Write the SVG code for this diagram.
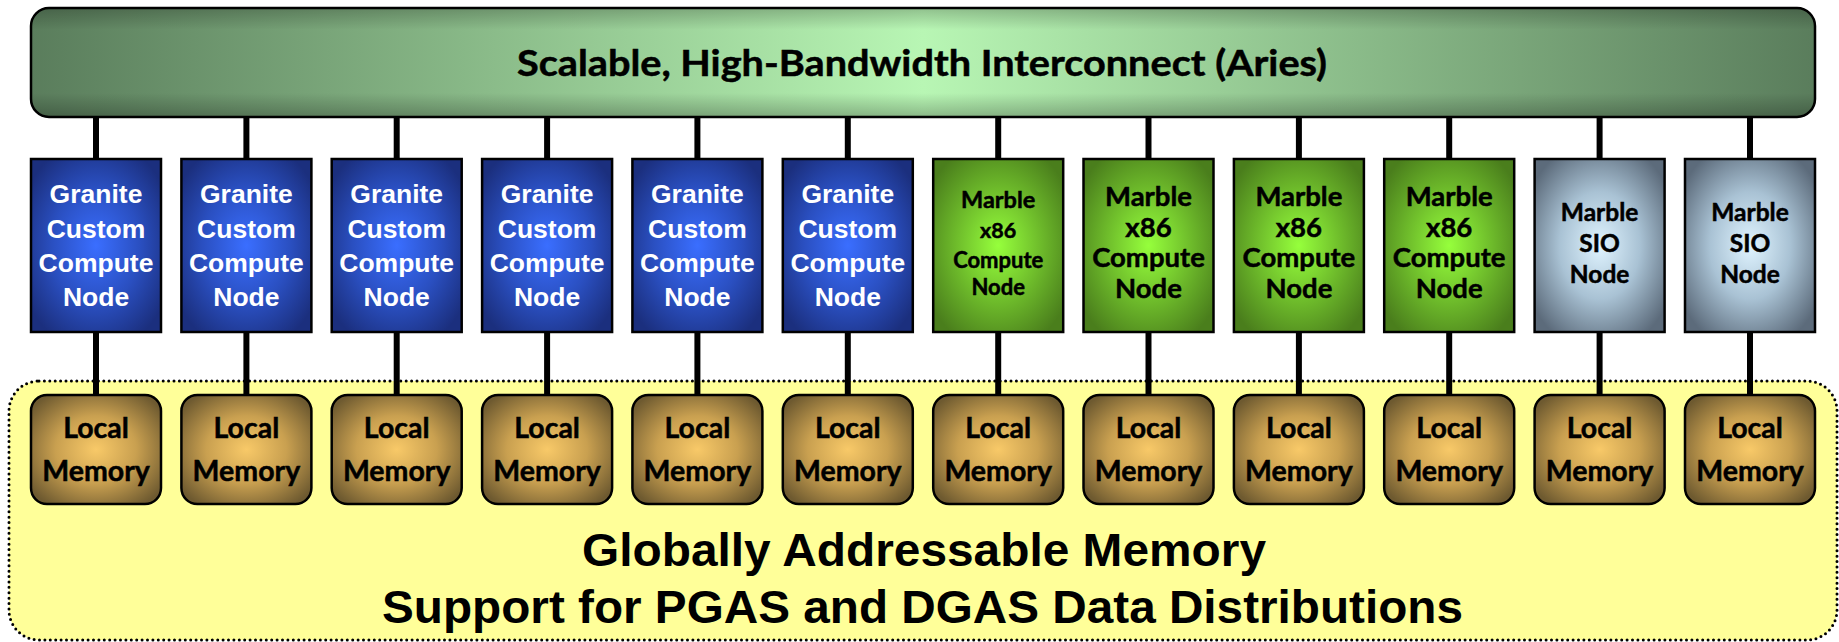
<svg xmlns="http://www.w3.org/2000/svg" width="1839" height="642" viewBox="0 0 1839 642">
<defs>
<linearGradient id="barH" x1="0" y1="0" x2="1" y2="0">
<stop offset="0" stop-color="#5a7d5c"/>
<stop offset="0.5" stop-color="#b8f6b4"/>
<stop offset="1" stop-color="#5a7d5c"/>
</linearGradient>
<linearGradient id="barV" x1="0" y1="0" x2="0" y2="1">
<stop offset="0" stop-color="#000" stop-opacity="0.22"/>
<stop offset="0.2" stop-color="#000" stop-opacity="0"/>
<stop offset="0.78" stop-color="#000" stop-opacity="0"/>
<stop offset="1" stop-color="#000" stop-opacity="0.25"/>
</linearGradient>
<radialGradient id="gBlue" cx="0.5" cy="0.5" r="0.62">
<stop offset="0" stop-color="#3a6eff"/>
<stop offset="0.55" stop-color="#2a4fc0"/>
<stop offset="1" stop-color="#1b2f7e"/>
</radialGradient>
<radialGradient id="gGreen" cx="0.5" cy="0.5" r="0.62">
<stop offset="0" stop-color="#96ff3c"/>
<stop offset="0.55" stop-color="#6cb82a"/>
<stop offset="1" stop-color="#4a7e1c"/>
</radialGradient>
<radialGradient id="gSio" cx="0.5" cy="0.5" r="0.62">
<stop offset="0" stop-color="#e0f4ff"/>
<stop offset="0.5" stop-color="#a9c2d4"/>
<stop offset="1" stop-color="#5c6b7b"/>
</radialGradient>
<radialGradient id="gMem" cx="0.5" cy="0.5" r="0.62">
<stop offset="0" stop-color="#f8c968"/>
<stop offset="0.5" stop-color="#c9a050"/>
<stop offset="1" stop-color="#6e5a30"/>
</radialGradient>
<style>
.box{stroke:#000;stroke-width:2.5}
.blue{fill:url(#gBlue)}
.green{fill:url(#gGreen)}
.sio{fill:url(#gSio)}
.mem{fill:url(#gMem)}
.conn line{stroke:#000;stroke-width:6}
.ar{font-family:"Liberation Sans",Arial,sans-serif;font-weight:bold;text-anchor:middle}
.cal{font-family:Lato,"Open Sans",sans-serif;font-weight:bold;text-anchor:middle;fill:#000;stroke:#000;stroke-width:0.5}
.wt{fill:#fff;font-size:26.5px}
</style>
</defs>

<g id="global-memory">
<rect x="9" y="381" width="1828" height="259" rx="30" fill="#ffff99" stroke="#000" stroke-width="3" stroke-dasharray="0 5.4" stroke-linecap="round"/>
<text class="ar" x="924" y="566" font-size="47" textLength="684" lengthAdjust="spacingAndGlyphs">Globally Addressable Memory</text>
<text class="ar" x="922.5" y="623" font-size="47" textLength="1081" lengthAdjust="spacingAndGlyphs">Support for PGAS and DGAS Data Distributions</text>
</g>

<g id="interconnect">
<rect x="31" y="8" width="1784" height="109" rx="18" fill="url(#barH)"/>
<rect x="31" y="8" width="1784" height="109" rx="18" fill="url(#barV)" stroke="#000" stroke-width="2.5"/>
<text class="cal" x="922" y="75.5" font-size="35.5" stroke-width="0.7" textLength="810" lengthAdjust="spacingAndGlyphs">Scalable, High-Bandwidth Interconnect (Aries)</text>
</g>

<g id="connectors" class="conn">
<line x1="96" y1="117" x2="96" y2="159"/><line x1="96" y1="332" x2="96" y2="395"/>
<line x1="246.4" y1="117" x2="246.4" y2="159"/><line x1="246.4" y1="332" x2="246.4" y2="395"/>
<line x1="396.7" y1="117" x2="396.7" y2="159"/><line x1="396.7" y1="332" x2="396.7" y2="395"/>
<line x1="547.1" y1="117" x2="547.1" y2="159"/><line x1="547.1" y1="332" x2="547.1" y2="395"/>
<line x1="697.4" y1="117" x2="697.4" y2="159"/><line x1="697.4" y1="332" x2="697.4" y2="395"/>
<line x1="847.8" y1="117" x2="847.8" y2="159"/><line x1="847.8" y1="332" x2="847.8" y2="395"/>
<line x1="998.2" y1="117" x2="998.2" y2="159"/><line x1="998.2" y1="332" x2="998.2" y2="395"/>
<line x1="1148.5" y1="117" x2="1148.5" y2="159"/><line x1="1148.5" y1="332" x2="1148.5" y2="395"/>
<line x1="1298.9" y1="117" x2="1298.9" y2="159"/><line x1="1298.9" y1="332" x2="1298.9" y2="395"/>
<line x1="1449.2" y1="117" x2="1449.2" y2="159"/><line x1="1449.2" y1="332" x2="1449.2" y2="395"/>
<line x1="1599.6" y1="117" x2="1599.6" y2="159"/><line x1="1599.6" y1="332" x2="1599.6" y2="395"/>
<line x1="1750" y1="117" x2="1750" y2="159"/><line x1="1750" y1="332" x2="1750" y2="395"/>
</g>

<g id="node1"><rect class="box blue" x="31" y="159" width="130" height="173"/>
<text class="ar wt" x="96"><tspan x="96" y="203">Granite</tspan><tspan x="96" y="237.5">Custom</tspan><tspan x="96" y="272">Compute</tspan><tspan x="96" y="306">Node</tspan></text></g>
<g id="node2"><rect class="box blue" x="181.4" y="159" width="130" height="173"/>
<text class="ar wt" x="246.4"><tspan x="246.4" y="203">Granite</tspan><tspan x="246.4" y="237.5">Custom</tspan><tspan x="246.4" y="272">Compute</tspan><tspan x="246.4" y="306">Node</tspan></text></g>
<g id="node3"><rect class="box blue" x="331.7" y="159" width="130" height="173"/>
<text class="ar wt" x="396.7"><tspan x="396.7" y="203">Granite</tspan><tspan x="396.7" y="237.5">Custom</tspan><tspan x="396.7" y="272">Compute</tspan><tspan x="396.7" y="306">Node</tspan></text></g>
<g id="node4"><rect class="box blue" x="482.1" y="159" width="130" height="173"/>
<text class="ar wt" x="547.1"><tspan x="547.1" y="203">Granite</tspan><tspan x="547.1" y="237.5">Custom</tspan><tspan x="547.1" y="272">Compute</tspan><tspan x="547.1" y="306">Node</tspan></text></g>
<g id="node5"><rect class="box blue" x="632.4" y="159" width="130" height="173"/>
<text class="ar wt" x="697.4"><tspan x="697.4" y="203">Granite</tspan><tspan x="697.4" y="237.5">Custom</tspan><tspan x="697.4" y="272">Compute</tspan><tspan x="697.4" y="306">Node</tspan></text></g>
<g id="node6"><rect class="box blue" x="782.8" y="159" width="130" height="173"/>
<text class="ar wt" x="847.8"><tspan x="847.8" y="203">Granite</tspan><tspan x="847.8" y="237.5">Custom</tspan><tspan x="847.8" y="272">Compute</tspan><tspan x="847.8" y="306">Node</tspan></text></g>

<g id="node7"><rect class="box green" x="933.2" y="159" width="130" height="173"/>
<text class="cal" x="998.2"><tspan x="998.2" y="208" font-size="23.5">Marble</tspan><tspan x="998.2" y="238" font-size="21.5">x86</tspan><tspan x="998.2" y="268" font-size="22">Compute</tspan><tspan x="998.2" y="295" font-size="22">Node</tspan></text></g>
<g id="node8"><rect class="box green" x="1083.5" y="159" width="130" height="173"/>
<text class="cal" x="1148.5" font-size="27.5"><tspan x="1148.5" y="206">Marble</tspan><tspan x="1148.5" y="237">x86</tspan><tspan x="1148.5" y="267">Compute</tspan><tspan x="1148.5" y="298">Node</tspan></text></g>
<g id="node9"><rect class="box green" x="1233.9" y="159" width="130" height="173"/>
<text class="cal" x="1298.9" font-size="27.5"><tspan x="1298.9" y="206">Marble</tspan><tspan x="1298.9" y="237">x86</tspan><tspan x="1298.9" y="267">Compute</tspan><tspan x="1298.9" y="298">Node</tspan></text></g>
<g id="node10"><rect class="box green" x="1384.2" y="159" width="130" height="173"/>
<text class="cal" x="1449.2" font-size="27.5"><tspan x="1449.2" y="206">Marble</tspan><tspan x="1449.2" y="237">x86</tspan><tspan x="1449.2" y="267">Compute</tspan><tspan x="1449.2" y="298">Node</tspan></text></g>

<g id="node11"><rect class="box sio" x="1534.6" y="159" width="130" height="173"/>
<text class="cal" x="1599.6" font-size="24.5"><tspan x="1599.6" y="221">Marble</tspan><tspan x="1599.6" y="252">SIO</tspan><tspan x="1599.6" y="283">Node</tspan></text></g>
<g id="node12"><rect class="box sio" x="1685" y="159" width="130" height="173"/>
<text class="cal" x="1750" font-size="24.5"><tspan x="1750" y="221">Marble</tspan><tspan x="1750" y="252">SIO</tspan><tspan x="1750" y="283">Node</tspan></text></g>

<g id="mem1"><rect class="box mem" x="31" y="395" width="130" height="109" rx="16"/><text class="cal" font-size="28.5"><tspan x="96" y="438">Local</tspan><tspan x="96" y="481">Memory</tspan></text></g>
<g id="mem2"><rect class="box mem" x="181.4" y="395" width="130" height="109" rx="16"/><text class="cal" font-size="28.5"><tspan x="246.4" y="438">Local</tspan><tspan x="246.4" y="481">Memory</tspan></text></g>
<g id="mem3"><rect class="box mem" x="331.7" y="395" width="130" height="109" rx="16"/><text class="cal" font-size="28.5"><tspan x="396.7" y="438">Local</tspan><tspan x="396.7" y="481">Memory</tspan></text></g>
<g id="mem4"><rect class="box mem" x="482.1" y="395" width="130" height="109" rx="16"/><text class="cal" font-size="28.5"><tspan x="547.1" y="438">Local</tspan><tspan x="547.1" y="481">Memory</tspan></text></g>
<g id="mem5"><rect class="box mem" x="632.4" y="395" width="130" height="109" rx="16"/><text class="cal" font-size="28.5"><tspan x="697.4" y="438">Local</tspan><tspan x="697.4" y="481">Memory</tspan></text></g>
<g id="mem6"><rect class="box mem" x="782.8" y="395" width="130" height="109" rx="16"/><text class="cal" font-size="28.5"><tspan x="847.8" y="438">Local</tspan><tspan x="847.8" y="481">Memory</tspan></text></g>
<g id="mem7"><rect class="box mem" x="933.2" y="395" width="130" height="109" rx="16"/><text class="cal" font-size="28.5"><tspan x="998.2" y="438">Local</tspan><tspan x="998.2" y="481">Memory</tspan></text></g>
<g id="mem8"><rect class="box mem" x="1083.5" y="395" width="130" height="109" rx="16"/><text class="cal" font-size="28.5"><tspan x="1148.5" y="438">Local</tspan><tspan x="1148.5" y="481">Memory</tspan></text></g>
<g id="mem9"><rect class="box mem" x="1233.9" y="395" width="130" height="109" rx="16"/><text class="cal" font-size="28.5"><tspan x="1298.9" y="438">Local</tspan><tspan x="1298.9" y="481">Memory</tspan></text></g>
<g id="mem10"><rect class="box mem" x="1384.2" y="395" width="130" height="109" rx="16"/><text class="cal" font-size="28.5"><tspan x="1449.2" y="438">Local</tspan><tspan x="1449.2" y="481">Memory</tspan></text></g>
<g id="mem11"><rect class="box mem" x="1534.6" y="395" width="130" height="109" rx="16"/><text class="cal" font-size="28.5"><tspan x="1599.6" y="438">Local</tspan><tspan x="1599.6" y="481">Memory</tspan></text></g>
<g id="mem12"><rect class="box mem" x="1685" y="395" width="130" height="109" rx="16"/><text class="cal" font-size="28.5"><tspan x="1750" y="438">Local</tspan><tspan x="1750" y="481">Memory</tspan></text></g>
</svg>
